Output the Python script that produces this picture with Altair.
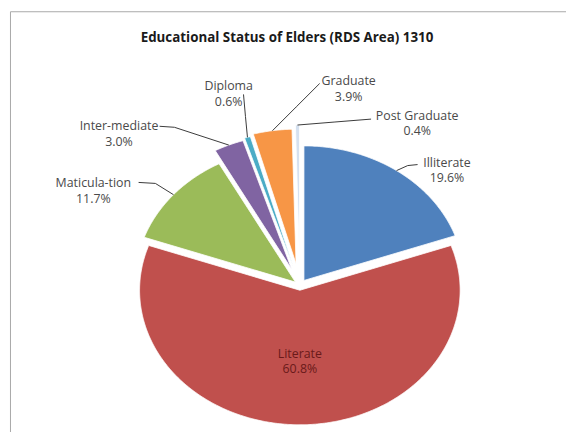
import math
import altair as alt
import pandas as pd

# ---------------- data ----------------
categories = ["Illiterate", "Literate", "Maticula-tion", "Inter-mediate",
              "Diploma", "Graduate", "Post Graduate"]
percent = [19.6, 60.8, 11.7, 3.0, 0.6, 3.9, 0.4]
pct_labels = ["19.6%", "60.8%", "11.7%", "3.0%", "0.6%", "3.9%", "0.4%"]

# ---------------- style / layout ----------------
colors = ["#4F81BD", "#C0504D", "#9BBB59", "#8064A2", "#4BACC6", "#F79646", "#D5E1F0"]
W, H = 572, 434
CX, CY = 293, 277          # pie centre (plot units, y downwards)
RX, RY = 162, 136          # elliptical radii (stretched Excel picture)
explode = [6, 5, 5, 18, 20, 22, 26]
inside = [False, True, False, False, False, False, False]
LH = 16                    # label line height
FS = 12.5                  # label font size
# label centre offsets from the slice's outer mid point
label_off = [(51, 0), (0, 0), (-81, -4), (-111, -11), (-19, -44), (77, -42), (121, -1.5)]
# leader line: (elbow, attach) offsets from the slice's outer mid point
leader_off = [((11.3, -5.1), (21.3, -6.1)), None, ((-18.3, -11.4), (-35.3, -12.4)),
              ((-55, -18), (-70, -19)), ((-2, -21), (-4, -43.4)),
              ((24, -24), (47.7, -47.7)), ((37, -3), (74.4, -6))]
FONT = "Open Sans"

k = RX / RY
slice_rows, leader_rows, label_rows = [], [], []
cum = 0.0
for i, (cat, p) in enumerate(zip(categories, percent)):
    a0 = cum / 100 * 360
    a1 = (cum + p) / 100 * 360
    cum += p
    mid = math.radians((a0 + a1) / 2)
    px = CX + explode[i] * k * math.sin(mid)
    py = CY - explode[i] * math.cos(mid)
    slice_rows.append(dict(cat=cat, idx=0, x=px, y=py))
    n = max(2, int(math.ceil((a1 - a0) / 0.4)) + 1)
    for j in range(n):
        a = math.radians(a0 + (a1 - a0) * j / (n - 1))
        slice_rows.append(dict(cat=cat, idx=j + 1,
                               x=px + RX * math.sin(a), y=py - RY * math.cos(a)))
    ax = px + RX * math.sin(mid)
    ay = py - RY * math.cos(mid)
    if inside[i]:
        lx = px + 0.53 * RX * math.sin(mid)
        ly = py - 0.53 * RY * math.cos(mid)
    else:
        lx, ly = ax + label_off[i][0], ay + label_off[i][1]
    # first text line sits half a line above the block centre
    label_rows.append(dict(cat=cat, x=lx, y=ly - LH / 2, text=cat + "\n" + pct_labels[i],
                           inside=inside[i]))
    if leader_off[i] is not None:
        (ex, ey), (tx, ty) = leader_off[i]
        leader_rows += [dict(cat=cat, idx=0, x=ax, y=ay),
                        dict(cat=cat, idx=1, x=ax + ex, y=ay + ey),
                        dict(cat=cat, idx=2, x=ax + tx, y=ay + ty)]

slices_df = pd.DataFrame(slice_rows)
leaders_df = pd.DataFrame(leader_rows)
labels_df = pd.DataFrame(label_rows)

xs = alt.Scale(domain=[0, W], nice=False, zero=False)
ys = alt.Scale(domain=[0, H], nice=False, zero=False, reverse=True)

slices = alt.Chart(slices_df).mark_line(
    filled=True, interpolate="linear-closed", stroke="white", strokeWidth=0.8
).encode(
    x=alt.X("x:Q", scale=xs, axis=None),
    y=alt.Y("y:Q", scale=ys, axis=None),
    color=alt.Color("cat:N", scale=alt.Scale(domain=categories, range=colors), legend=None),
    order=alt.Order("idx:Q"),
)

leaders = alt.Chart(leaders_df).mark_line(color="#3a3a3a", strokeWidth=1).encode(
    x=alt.X("x:Q", scale=xs, axis=None),
    y=alt.Y("y:Q", scale=ys, axis=None),
    detail="cat:N",
    order=alt.Order("idx:Q"),
)

labels_out = alt.Chart(labels_df).transform_filter("!datum.inside").mark_text(
    font=FONT, fontSize=FS, lineBreak="\n", lineHeight=LH,
    align="center", baseline="middle", color="#4a4a4a"
).encode(
    x=alt.X("x:Q", scale=xs, axis=None),
    y=alt.Y("y:Q", scale=ys, axis=None),
    text="text:N",
)

labels_in = alt.Chart(labels_df).transform_filter("datum.inside").mark_text(
    font=FONT, fontSize=FS, lineBreak="\n", lineHeight=LH,
    align="center", baseline="middle", color="#6a1a1a"
).encode(
    x=alt.X("x:Q", scale=xs, axis=None),
    y=alt.Y("y:Q", scale=ys, axis=None),
    text="text:N",
)

chart = alt.layer(slices, leaders, labels_out, labels_in).properties(
    width=W, height=H,
    title=alt.Title("Educational Status of Elders (RDS Area) 1310", font=FONT,
                    fontSize=13.5, fontWeight="bold", color="#1a1a1a",
                    anchor="middle", dy=38, dx=-6),
    # the chart frame runs past the photographed window on the right and bottom
    padding={"left": 2, "top": 1, "right": -10, "bottom": -11},
    autosize=alt.AutoSizeParams(type="none"),
    background="white",
).configure_view(stroke="#a8a8a8", strokeWidth=1)

chart.save("out.html", embed_options={"renderer": "svg", "actions": False})
